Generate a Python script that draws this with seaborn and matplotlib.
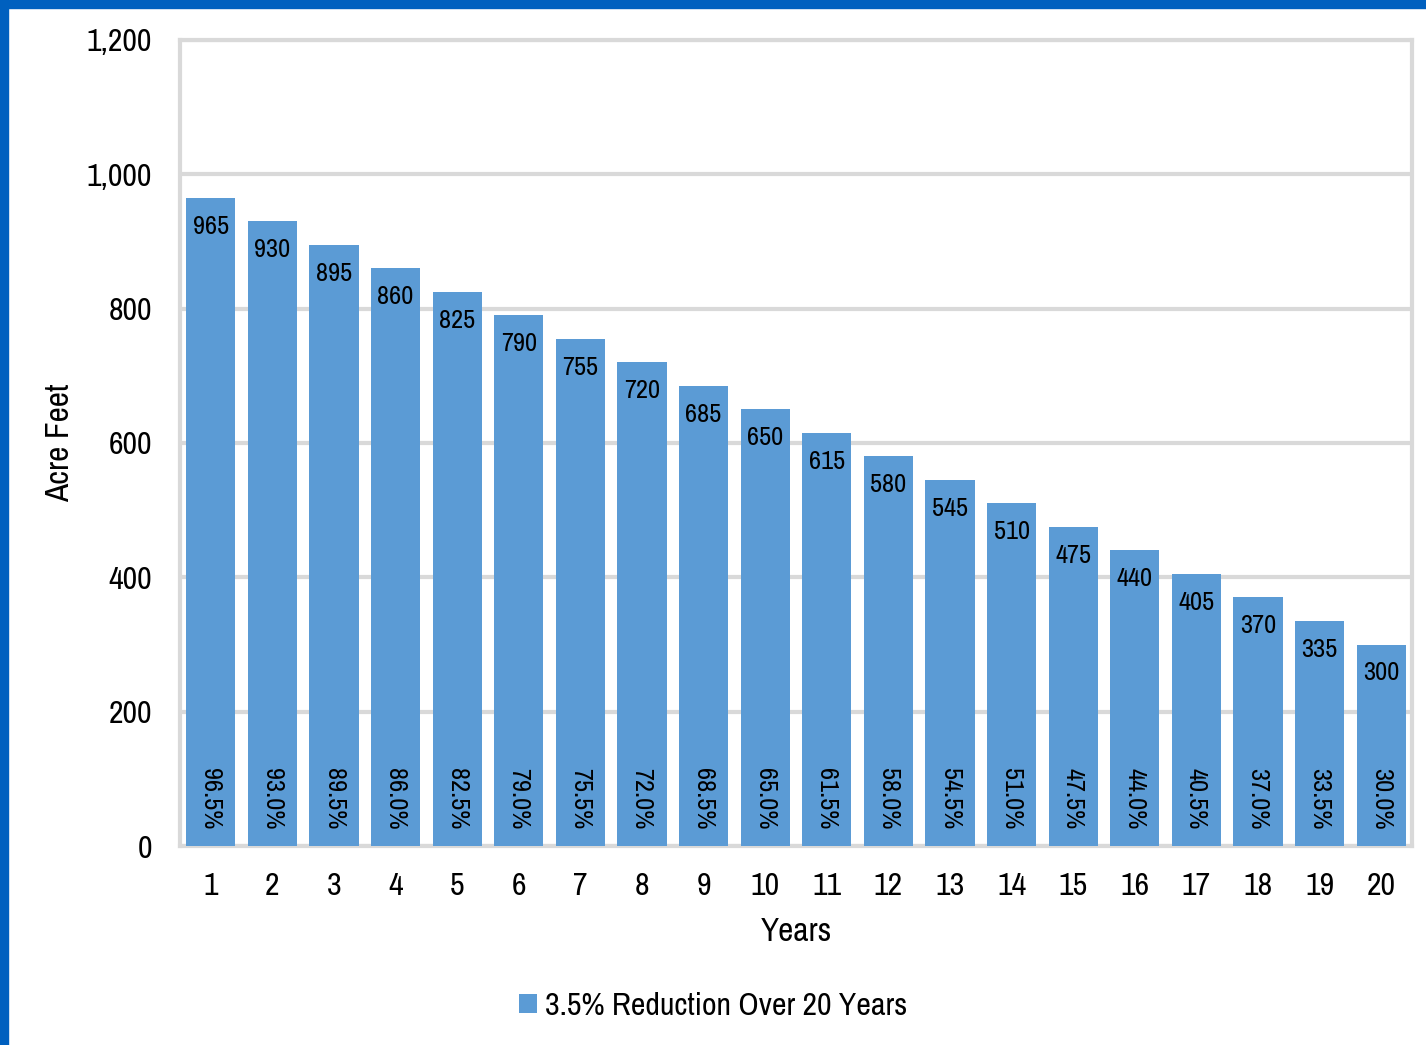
import matplotlib
matplotlib.use("Agg")
import matplotlib.pyplot as plt
import numpy as np
import pandas as pd
import seaborn as sns
from matplotlib import font_manager
from matplotlib.patches import Rectangle
from matplotlib.ticker import FuncFormatter, MultipleLocator

years = [str(i) for i in range(1, 21)]
acre_feet = [965, 930, 895, 860, 825, 790, 755, 720, 685, 650,
             615, 580, 545, 510, 475, 440, 405, 370, 335, 300]
pct_labels = ["96.5%", "93.0%", "89.5%", "86.0%", "82.5%", "79.0%", "75.5%",
              "72.0%", "68.5%", "65.0%", "61.5%", "58.0%", "54.5%", "51.0%",
              "47.5%", "44.0%", "40.5%", "37.0%", "33.5%", "30.0%"]
series_name = "3.5% Reduction Over 20 Years"

BAR_COLOR = "#5B9BD5"
GRID_COLOR = "#D9D9D9"
FRAME_BLUE = "#0060BF"


def pick_narrow_font():
    # look for any condensed / narrow face that happens to be installed
    fonts = font_manager.fontManager.ttflist
    names = sorted({f.name for f in fonts})
    for n in names:
        if "Narrow" in n or "Condensed" in n:
            return n, "normal"
    for f in fonts:
        if f.stretch in ("condensed", "semi-condensed") or f.stretch == 300:
            return f.name, "condensed"
    return None, "normal"


narrow, stretch = pick_narrow_font()

sns.set_theme(style="white")
if narrow:
    plt.rcParams["font.family"] = [narrow, "DejaVu Sans"]
    plt.rcParams["font.stretch"] = stretch
    scale = 1.0
else:
    plt.rcParams["font.family"] = ["DejaVu Sans"]
    scale = 0.85
plt.rcParams["text.color"] = "black"

df = pd.DataFrame({"Year": years, "Acre Feet": acre_feet})

fig = plt.figure(figsize=(14.26, 10.45), dpi=100)
ax = fig.add_axes([180 / 1426, 1 - 846 / 1045, (1412 - 180) / 1426, (846 - 40) / 1045])

sns.barplot(data=df, x="Year", y="Acre Feet", color=BAR_COLOR, width=0.8,
            saturation=1, ax=ax, label=series_name, zorder=3, linewidth=0)

ax.set_ylim(0, 1200)
ax.set_xlim(-0.5, len(years) - 0.5)
ax.yaxis.set_major_locator(MultipleLocator(200))
ax.yaxis.set_major_formatter(FuncFormatter(lambda v, _: f"{int(v):,}"))
ax.grid(axis="y", color=GRID_COLOR, linewidth=3, zorder=0)
ax.set_axisbelow(True)

for side in ["top", "left", "right", "bottom"]:
    ax.spines[side].set_visible(True)
    ax.spines[side].set_color(GRID_COLOR)
    ax.spines[side].set_linewidth(3)

ax.tick_params(axis="y", length=0, labelsize=23 * scale, pad=20, colors="black")
ax.tick_params(axis="x", length=0, labelsize=23 * scale, pad=19, colors="black")
ax.set_xticks(np.arange(-0.5, len(years), 1.0), minor=True)
ax.tick_params(axis="x", which="minor", length=10, width=2, color=GRID_COLOR, direction="out")

ax.set_xlabel("Years", fontsize=24 * scale, fontweight="bold", color="black")
ax.xaxis.set_label_coords(0.5, -(917 - 846) / 806, transform=ax.transAxes)
ax.set_ylabel("Acre Feet", fontsize=24 * scale, fontweight="bold", color="black")
ax.yaxis.set_label_coords(-(180 - 75) / 1232, (846 - 443) / 806, transform=ax.transAxes)

for i, (v, p) in enumerate(zip(acre_feet, pct_labels)):
    ax.annotate(str(v), (i, v), xytext=(0, -12), textcoords="offset points",
                ha="center", va="top", fontsize=19 * scale, fontweight="bold", zorder=4)
    ax.annotate(p, (i, 0), xytext=(0, 12), textcoords="offset points",
                ha="center", va="bottom", rotation=-90, fontsize=19 * scale, zorder=4)

ax.legend(loc="center", bbox_to_anchor=(0.5, 1 - 1006 / 1045), bbox_transform=fig.transFigure,
          frameon=False, fontsize=23 * scale, handlelength=0.55, handleheight=0.55,
          handletextpad=0.25, labelcolor="black")

fig.patches.append(Rectangle((0, 1 - 8 / 1045), 1, 8 / 1045, transform=fig.transFigure,
                             color=FRAME_BLUE, zorder=10))
fig.patches.append(Rectangle((0, 0), 8 / 1426, 1, transform=fig.transFigure,
                             color=FRAME_BLUE, zorder=10))

fig.savefig("out.png", dpi=100, facecolor="white")
